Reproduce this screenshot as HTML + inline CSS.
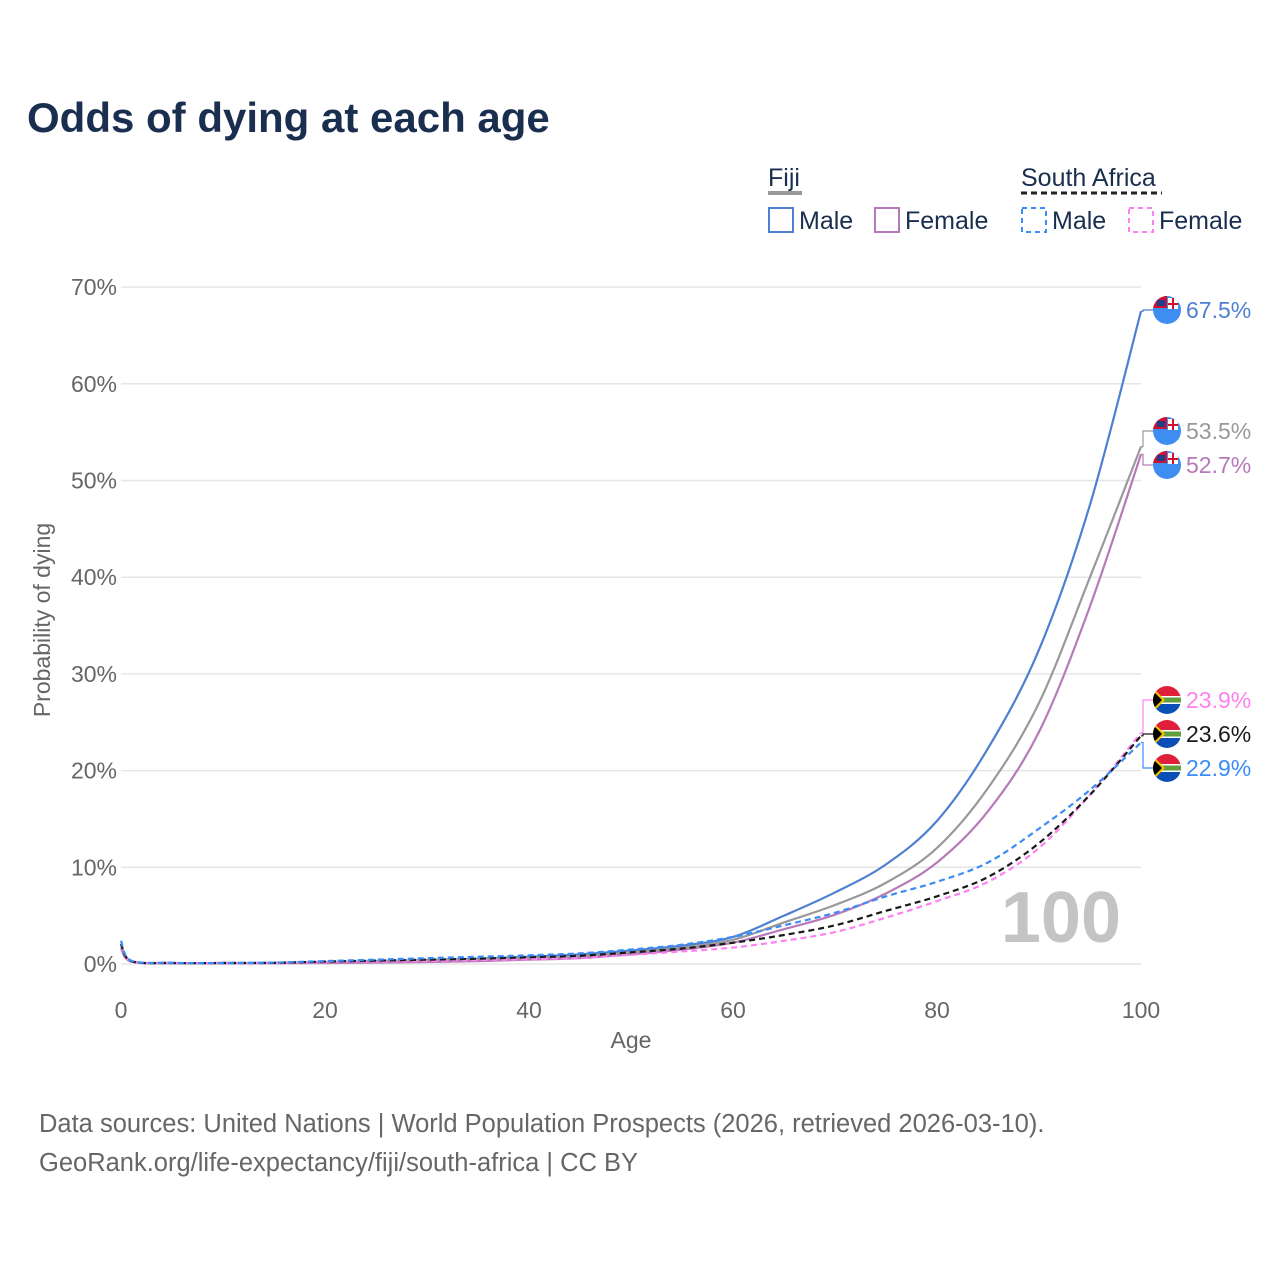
<!DOCTYPE html>
<html><head><meta charset="utf-8">
<style>
body{margin:0;background:#fff;font-family:"Liberation Sans",sans-serif;}
#wrap{position:relative;width:1280px;height:1280px;overflow:hidden;}
</style></head>
<body>
<div id="wrap">
<svg id="chart" width="1280" height="1280" xmlns="http://www.w3.org/2000/svg"></svg>
</div>
<script>
const ages=[0,1,5,10,15,20,25,30,35,40,45,50,55,60,65,70,75,80,85,90,95,100];
const fijiMale=[2.0,0.3,0.1,0.1,0.12,0.2,0.3,0.4,0.55,0.75,1.0,1.4,1.9,2.8,5.0,7.4,10.3,14.8,22.3,32.5,47.5,67.5];
const fijiBoth=[1.8,0.3,0.1,0.1,0.1,0.15,0.25,0.35,0.45,0.6,0.8,1.2,1.7,2.5,4.3,6.1,8.4,12.0,18.2,27.0,40.0,53.5];
const fijiFemale=[1.6,0.25,0.08,0.08,0.08,0.1,0.15,0.2,0.3,0.45,0.6,1.0,1.5,2.2,3.6,5.1,7.3,10.5,15.8,24.0,37.0,52.7];
const saMale=[2.4,0.35,0.12,0.1,0.15,0.3,0.45,0.6,0.75,0.9,1.1,1.5,2.0,2.8,4.0,5.3,7.0,8.5,10.5,14.0,18.0,22.9];
const saBoth=[2.1,0.3,0.1,0.1,0.12,0.25,0.35,0.45,0.55,0.7,0.85,1.2,1.6,2.2,3.0,4.0,5.5,7.0,9.0,12.5,17.5,23.6];
const saFemale=[1.9,0.28,0.1,0.1,0.1,0.2,0.25,0.3,0.4,0.5,0.65,0.95,1.3,1.7,2.4,3.3,4.8,6.5,8.5,12.0,17.5,23.9];
const yTicks=[0,10,20,30,40,50,60,70];
const xTicks=[0,20,40,60,80,100];
const series=[
 {name:'fiji-male',vals:fijiMale,color:'#4f7fd0',dash:'',label:'67.5%',ly:310,flag:'fiji'},
 {name:'fiji-both',vals:fijiBoth,color:'#999',dash:'',label:'53.5%',ly:431,flag:'fiji'},
 {name:'fiji-female',vals:fijiFemale,color:'#b77ab8',dash:'',label:'52.7%',ly:465,flag:'fiji'},
 {name:'sa-female',vals:saFemale,color:'#ff80f0',dash:'6 4',label:'23.9%',ly:700,flag:'sa'},
 {name:'sa-both',vals:saBoth,color:'#1a1a1a',dash:'6 4',label:'23.6%',ly:734,flag:'sa'},
 {name:'sa-male',vals:saMale,color:'#3b8cf5',dash:'6 4',label:'22.9%',ly:768,flag:'sa'}
];
const X=a=>121+a*10.2;
const Y=v=>964-v*9.67;
const svg=document.getElementById('chart');
const NS='http://www.w3.org/2000/svg';
function mk(tag,attrs,parent){const e=document.createElementNS(NS,tag);for(const k in attrs)e.setAttribute(k,attrs[k]);(parent||svg).appendChild(e);return e;}
function txt(s,attrs){const t=mk('text',attrs);t.textContent=s;return t;}

let t=txt('Odds of dying at each age',{x:27,y:132,'font-size':42,'font-weight':'bold',fill:'#1a2e4f'});



const lg=mk('g',{});


function legendItem(x,y,label,color,dash,name){
  const g=mk('g',{},lg);
  
  
  mk('rect',{x:x,y:y-12,width:24,height:24,fill:'none',stroke:color,'stroke-width':2,'stroke-dasharray':dash},g);
  const tt=mk('text',{x:x+30,y:y+9,'font-size':25,fill:'#1a2e4f'},g);tt.textContent=label;
}
let g1=txt('Fiji',{x:768,y:186,'font-size':25,fill:'#1a2e4f'});


mk('line',{x1:768,x2:802,y1:193,y2:193,stroke:'#999','stroke-width':4});
let g2=txt('South Africa',{x:1021,y:186,'font-size':25,fill:'#1a2e4f'});


mk('line',{x1:1021,x2:1162,y1:193,y2:193,stroke:'#222','stroke-width':3,'stroke-dasharray':'6 4'});
legendItem(769,220,'Male','#4f7fd0','','legend-fiji-male');
legendItem(875,220,'Female','#b77ab8','','legend-fiji-female');
legendItem(1022,220,'Male','#3b8cf5','5 4','legend-sa-male');
legendItem(1129,220,'Female','#ff80f0','5 4','legend-sa-female');

yTicks.forEach(v=>{
  const l=mk('line',{x1:121,x2:1141,y1:Y(v),y2:Y(v),stroke:'#e6e6e6','stroke-width':1.5});
  
  
  const tk=txt(v+'%',{x:117,y:Y(v)+8,'font-size':23,fill:'#666','text-anchor':'end'});
  
  
});
xTicks.forEach(v=>{
  const tk=txt(String(v),{x:X(v),y:1018,'font-size':23,fill:'#666','text-anchor':'middle'});
  
  
});
let xt=txt('Age',{x:631,y:1048,'font-size':23,fill:'#666','text-anchor':'middle'});


let yt=txt('Probability of dying',{x:0,y:0,'font-size':23,fill:'#666','text-anchor':'middle',transform:'translate(50,620) rotate(-90)'});


let big=txt('100',{x:1121,y:942,'font-size':72,'font-weight':'bold',fill:'#c4c4c4','text-anchor':'end'});



function smoothPath(pts){
  let d='M'+pts[0][0]+','+pts[0][1];
  for(let i=0;i<pts.length-1;i++){
    const p0=pts[Math.max(0,i-1)],p1=pts[i],p2=pts[i+1],p3=pts[Math.min(pts.length-1,i+2)];
    const c1=[p1[0]+(p2[0]-p0[0])/6,p1[1]+(p2[1]-p0[1])/6];
    const c2=[p2[0]-(p3[0]-p1[0])/6,p2[1]-(p3[1]-p1[1])/6];
    d+=` C${c1[0]},${c1[1]} ${c2[0]},${c2[1]} ${p2[0]},${p2[1]}`;
  }
  return d;
}
function flag(kind,cx,cy,name){
  const g=mk('g',{});
  
  
  const id='c'+Math.round(cy);
  const cp=mk('clipPath',{id:id},g);mk('circle',{cx:cx,cy:cy,r:14},cp);
  const f=mk('g',{'clip-path':'url(#'+id+')'},g);
  if(kind==='fiji'){
    mk('rect',{x:cx-14,y:cy-14,width:28,height:28,fill:'#3d8ef0'},f);
    mk('rect',{x:cx-14,y:cy-14,width:14,height:12,fill:'#d2102e'},f);
    mk('rect',{x:cx-10,y:cy-10,width:8,height:6,fill:'#223d8a'},f);
    mk('rect',{x:cx+1,y:cy-12,width:10,height:11,fill:'#fff'},f);
    mk('rect',{x:cx+5,y:cy-12,width:2,height:11,fill:'#d2102e'},f);
    mk('rect',{x:cx+1,y:cy-7,width:10,height:2,fill:'#d2102e'},f);
  }else{
    mk('rect',{x:cx-14,y:cy-14,width:28,height:14,fill:'#e0203a'},f);
    mk('rect',{x:cx-14,y:cy,width:28,height:14,fill:'#0a4fb5'},f);
    mk('rect',{x:cx-14,y:cy-4,width:28,height:8,fill:'#fff'},f);
    mk('rect',{x:cx-14,y:cy-2.5,width:28,height:5,fill:'#5f9e3a'},f);
    mk('polygon',{points:`${cx-14},${cy-12} ${cx-2},${cy} ${cx-14},${cy+12}`,fill:'#f2c200'},f);
    mk('polygon',{points:`${cx-14},${cy-9} ${cx-5},${cy} ${cx-14},${cy+9}`,fill:'#000'},f);
  }
}
series.forEach(s=>{
  const pts=ages.map((a,i)=>[X(a),Y(s.vals[i])]);
  const p=mk('path',{d:smoothPath(pts),fill:'none',stroke:s.color,'stroke-width':2.2,'stroke-dasharray':s.dash});
  
  
  const ey=Y(s.vals[s.vals.length-1]);
  const c=mk('polyline',{points:`1141,${ey} 1143,${ey} 1143,${s.ly} 1153,${s.ly}`,fill:'none',stroke:s.color,'stroke-width':1.2});
  
  
  flag(s.flag,1167,s.ly,'flag-'+s.name);
  const l=txt(s.label,{x:1186,y:s.ly+8,'font-size':23,fill:s.color});
  
  
});
let s1=txt('Data sources: United Nations | World Population Prospects (2026, retrieved 2026-03-10).',{x:39,y:1132,'font-size':25.5,fill:'#666'});


let s2=txt('GeoRank.org/life-expectancy/fiji/south-africa | CC BY',{x:39,y:1171,'font-size':25.5,fill:'#666'});


</script>
</body></html>
